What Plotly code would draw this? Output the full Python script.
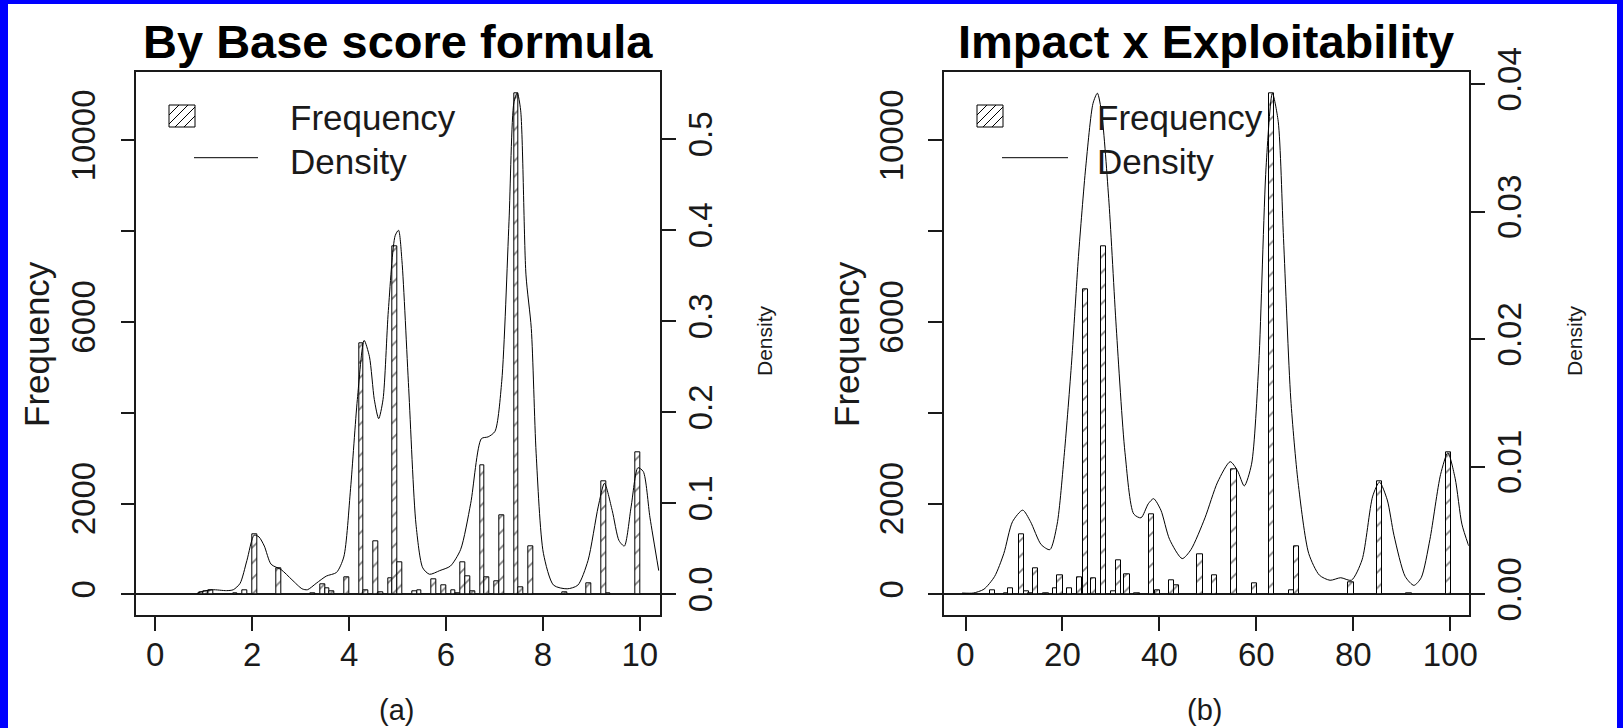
import plotly.graph_objects as go

W, H = 1623, 728

# ---------------- Panel (a): By Base score formula ----------------
# histogram bins of width 0.1, identified by their right edge (score)
a_scores = [1.0, 1.1, 1.2, 1.7, 1.9, 2.1, 2.6, 3.3, 3.5, 3.6, 3.7, 4.0, 4.3, 4.4,
            4.6, 4.7, 4.9, 5.0, 5.1, 5.4, 5.5, 5.8, 6.0, 6.2, 6.3, 6.4, 6.5, 6.6,
            6.8, 6.9, 7.1, 7.2, 7.5, 7.6, 7.8, 8.5, 9.0, 9.3, 9.4, 10.0]
a_counts = [35, 70, 90, 25, 95, 1320, 580, 30, 220, 125, 65, 380, 5520, 90,
            1170, 50, 355, 7670, 710, 65, 90, 320, 195, 95, 30, 715, 400, 65,
            2840, 380, 280, 1735, 11040, 160, 1065, 50, 245, 2490, 30, 3125]
a_dens_x = [0.86, 0.97, 1.18, 1.47, 1.61, 1.75, 1.89, 2.04, 2.14, 2.25, 2.39, 2.6,
            2.82, 3.03, 3.14, 3.32, 3.53, 3.74, 3.89, 4.03, 4.17, 4.31, 4.42, 4.52,
            4.61, 4.70, 4.81, 4.95, 5.02, 5.09, 5.23, 5.38, 5.52, 5.66, 5.87, 6.09,
            6.30, 6.51, 6.73, 6.87, 7.01, 7.15, 7.30, 7.40, 7.47, 7.54, 7.65, 7.76,
            7.86, 8.01, 8.22, 8.50, 8.72, 8.93, 9.14, 9.27, 9.43, 9.57, 9.68, 9.82,
            9.96, 10.07, 10.21, 10.39]
a_dens_y = [0.001, 0.003, 0.005, 0.004, 0.005, 0.012, 0.037, 0.065, 0.063, 0.053,
            0.033, 0.027, 0.016, 0.006, 0.005, 0.012, 0.020, 0.024, 0.041, 0.116,
            0.214, 0.279, 0.261, 0.214, 0.193, 0.214, 0.312, 0.394, 0.400, 0.367,
            0.226, 0.077, 0.029, 0.022, 0.026, 0.031, 0.049, 0.100, 0.171, 0.173,
            0.179, 0.234, 0.410, 0.540, 0.551, 0.532, 0.351, 0.292, 0.155, 0.045,
            0.010, 0.006, 0.010, 0.037, 0.096, 0.122, 0.092, 0.059, 0.053, 0.096,
            0.139, 0.135, 0.084, 0.026]
a_xticks = [0, 2, 4, 6, 8, 10]
a_dticks = [0.0, 0.1, 0.2, 0.3, 0.4, 0.5]
a_dlabels = ["0.0", "0.1", "0.2", "0.3", "0.4", "0.5"]

# ---------------- Panel (b): Impact x Exploitability ----------------
b_centers = [5.5, 8.4, 9.3, 11.6, 12.6, 13.5, 14.5, 16.6, 18.5, 19.5, 21.4, 23.5,
             24.7, 26.4, 28.4, 30.5, 31.6, 33.3, 35.4, 38.4, 39.6, 42.5, 43.5, 48.4,
             51.4, 55.4, 59.6, 63.1, 67.2, 68.3, 79.5, 85.4, 91.5, 99.7]
b_counts = [95, 30, 133, 1320, 67, 30, 572, 30, 133, 412, 133, 385,
            6720, 355, 7665, 67, 755, 440, 30, 1765, 90, 310, 193, 885,
            412, 2745, 252, 11040, 96, 1068, 260, 2480, 30, 3125]
b_dens_x = [-0.7, 1.6, 3.8, 6.0, 7.9, 9.7, 11.8, 13.4, 15.6, 17.4, 18.9, 20.4, 21.9,
            23.3, 24.8, 26.3, 27.2, 28.1, 29.6, 31.1, 32.9, 34.7, 36.2, 37.7, 38.8,
            40.3, 42.1, 44.7, 46.5, 49.4, 52.0, 54.6, 56.1, 57.5, 59.0, 60.5, 62.0,
            63.3, 64.5, 65.6, 67.1, 68.6, 70.8, 73.0, 75.2, 77.4, 79.6, 81.8, 84.0,
            85.4, 87.0, 88.4, 90.7, 92.5, 94.0, 95.8, 98.0, 99.5, 101.0, 102.4, 103.8]
b_dens_y = [0.0001, 0.0001, 0.0004, 0.0014, 0.0032, 0.0057, 0.0066, 0.0057, 0.0039,
            0.0035, 0.0055, 0.0111, 0.0183, 0.0265, 0.0335, 0.0385, 0.0393, 0.0377,
            0.0307, 0.0209, 0.0111, 0.0063, 0.0060, 0.0071, 0.0075, 0.0066, 0.0043,
            0.0028, 0.0035, 0.0060, 0.0088, 0.0104, 0.0097, 0.0085, 0.0102, 0.0181,
            0.0335, 0.0393, 0.0371, 0.0279, 0.0153, 0.0088, 0.0032, 0.0015, 0.0011,
            0.0013, 0.0011, 0.0027, 0.0077, 0.0088, 0.0074, 0.0046, 0.0014, 0.0007,
            0.0013, 0.0043, 0.0094, 0.0111, 0.0091, 0.0055, 0.0038]
b_xticks = [0, 20, 40, 60, 80, 100]
b_dticks = [0.00, 0.01, 0.02, 0.03, 0.04]
b_dlabels = ["0.00", "0.01", "0.02", "0.03", "0.04"]

freq_ticks = [0, 2000, 6000, 10000]
freq_minor = [4000, 8000]

FONT = "Liberation Sans, Arial, sans-serif"
INK = "#1a1a1a"


def pxx(x):
    return x / W


def pxy(y):
    return 1 - y / H


bar_style = dict(
    marker=dict(color="white", line=dict(color="black", width=1),
                pattern=dict(shape="/", fgcolor="black", bgcolor="white",
                             size=11, solidity=0.15)),
    showlegend=False, hoverinfo="skip",
)
curve_style = dict(mode="lines", line=dict(color="black", width=1, shape="spline", smoothing=0.7),
                   showlegend=False, hoverinfo="skip")

fig = go.Figure()
fig.add_trace(go.Bar(x=a_scores, y=a_counts, width=0.1, offset=-0.1,
                     xaxis="x", yaxis="y", **bar_style))
fig.add_trace(go.Scatter(x=a_dens_x, y=a_dens_y, xaxis="x", yaxis="y2", **curve_style))
fig.add_trace(go.Bar(x=b_centers, y=b_counts, width=1.1,
                     xaxis="x2", yaxis="y3", **bar_style))
fig.add_trace(go.Scatter(x=b_dens_x, y=b_dens_y, xaxis="x2", yaxis="y4", **curve_style))

top, bot = 72.3, 615.3
ydom = [pxy(bot), pxy(top)]
Lx = [pxx(136.3), pxx(659.7)]
Rx = [pxx(944.0), pxx(1468.7)]

tickfont = dict(family=FONT, size=33, color=INK)
base = dict(showline=True, linecolor=INK, linewidth=1.5, mirror=True,
            ticks="outside", ticklen=14, tickwidth=1.5, tickcolor=INK,
            showgrid=False, zeroline=False, tickfont=tickfont, automargin=False)

freq_axis = dict(base, range=[-462.6, 11498], tickvals=freq_ticks + freq_minor,
                 ticktext=[str(v) for v in freq_ticks] + ["", ""],
                 tickangle=-90, zeroline=True, zerolinecolor=INK, zerolinewidth=1.5,
                 ticklabelstandoff=12)
dens_common = dict(showline=False, ticks="outside", ticklen=15, tickwidth=1.5,
                   tickcolor=INK, showgrid=False, zeroline=False, tickfont=tickfont,
                   tickangle=-90, side="right", ticklabelstandoff=-3, automargin=False)

fig.update_layout(
    width=W, height=H,
    margin=dict(l=0, r=0, t=0, b=0, pad=0, autoexpand=False),
    paper_bgcolor="#0000FF",
    plot_bgcolor="rgba(0,0,0,0)",
    showlegend=False,
    bargap=0,
    xaxis=dict(base, domain=Lx, anchor="y", range=[-0.392, 10.41], tickvals=a_xticks,
               ticklabelstandoff=-5),
    yaxis=dict(freq_axis, domain=ydom, anchor="x"),
    yaxis2=dict(dens_common, overlaying="y", anchor="x", range=[-0.0231, 0.5736],
                tickvals=a_dticks, ticktext=a_dlabels),
    xaxis2=dict(base, domain=Rx, anchor="y3", range=[-4.44, 103.8], tickvals=b_xticks,
                ticklabelstandoff=-5),
    yaxis3=dict(freq_axis, domain=ydom, anchor="x2"),
    yaxis4=dict(dens_common, overlaying="y3", anchor="x2", range=[-0.001647, 0.04094],
                tickvals=b_dticks, ticktext=b_dlabels),
)

shapes = [dict(type="rect", xref="paper", yref="paper", x0=pxx(8), x1=pxx(W - 6),
               y0=pxy(H + 20), y1=pxy(4), fillcolor="white", line=dict(width=0),
               layer="below")]


def legend_shapes(sx0, sy0, sx1, sy1, lx0, lx1, ly):
    out = [dict(type="rect", xref="paper", yref="paper", x0=pxx(sx0), x1=pxx(sx1),
                y0=pxy(sy1), y1=pxy(sy0), line=dict(color="black", width=1),
                fillcolor="white")]
    # diagonal hatch lines inside the swatch
    for off in (-12, -3, 6, 15):
        xa, ya = sx0 + off, sy1
        xb, yb = sx0 + off + (sy1 - sy0), sy0
        if xa < sx0:
            ya -= (sx0 - xa); xa = sx0
        if xb > sx1:
            yb += (xb - sx1); xb = sx1
        if xa >= xb:
            continue
        out.append(dict(type="line", xref="paper", yref="paper", x0=pxx(xa), y0=pxy(ya),
                        x1=pxx(xb), y1=pxy(yb), line=dict(color="black", width=1)))
    out.append(dict(type="line", xref="paper", yref="paper", x0=pxx(lx0), x1=pxx(lx1),
                    y0=pxy(ly), y1=pxy(ly), line=dict(color="black", width=1)))
    return out


shapes += legend_shapes(169, 105, 195, 127, 194, 258, 157.7)
shapes += legend_shapes(977, 105, 1003, 127, 1002, 1068, 157.7)
fig.update_layout(shapes=shapes)


def ann(text, x, y, size, angle=0, bold=False, xanchor="center"):
    return dict(text=f"<b>{text}</b>" if bold else text, xref="paper", yref="paper",
                x=pxx(x), y=pxy(y), xanchor=xanchor, yanchor="middle", showarrow=False,
                textangle=angle, font=dict(family=FONT, size=size, color="black" if bold else INK))


annotations = [
    ann("By Base score formula", 397.5, 41, 47, bold=True),
    ann("Impact x Exploitability", 1206, 41, 47, bold=True),
    ann("Frequency", 36, 344, 35, angle=-90),
    ann("Frequency", 846, 344, 35, angle=-90),
    ann("Density", 764, 341, 21, angle=-90),
    ann("Density", 1574, 341, 21, angle=-90),
    ann("Frequency", 288, 118, 35, xanchor="left"),
    ann("Density", 288, 161, 35, xanchor="left"),
    ann("Frequency", 1095, 118, 35, xanchor="left"),
    ann("Density", 1095, 161, 35, xanchor="left"),
    ann("(a)", 396, 710, 29),
    ann("(b)", 1204, 710, 29),
]
fig.update_layout(annotations=annotations)

fig.write_html("out.html",
               config={"displayModeBar": False},
               post_script="document.body.style.margin='0';document.body.style.overflow='hidden';")
